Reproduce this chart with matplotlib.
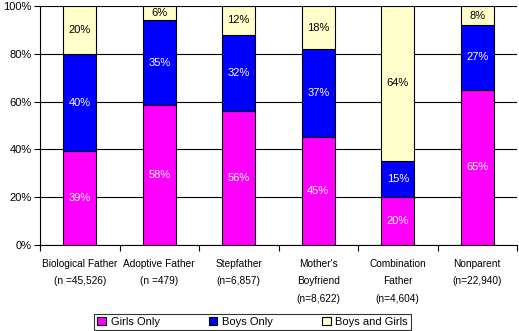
import numpy as np
import matplotlib.pyplot as plt
from matplotlib.ticker import FixedLocator, FuncFormatter

# categories and shares (percent, as printed on the bars)
categories = ['Biological Father\n(n =45,526)', 'Adoptive Father\n(n =479)',
              'Stepfather\n(n=6,857)', "Mother's\nBoyfriend\n(n=8,622)",
              'Combination\nFather\n(n=4,604)', 'Nonparent\n(n=22,940)']
girls_only = [39, 58, 56, 45, 20, 65]
boys_only = [40, 35, 32, 37, 15, 27]
boys_and_girls = [20, 6, 12, 18, 64, 8]

series = [('Girls Only', girls_only, '#FF00FF', 'white'),
          ('Boys Only', boys_only, '#0000FF', 'white'),
          ('Boys and Girls', boys_and_girls, '#FFFFCC', 'black')]

plt.rcParams['font.family'] = ['Liberation Sans', 'DejaVu Sans']
plt.rcParams['font.size'] = 8

fig = plt.figure(figsize=(5.19, 3.31), dpi=100)
ax = fig.add_axes([40 / 519, 1 - 245 / 331, 477 / 519, 239 / 331])

x = np.arange(len(categories))
totals = np.sum([s[1] for s in series], axis=0)
bottom = np.zeros(len(categories))
handles = []
for name, vals, col, tcol in series:
    frac = np.array(vals) / totals
    b = ax.bar(x, frac, 0.42, bottom=bottom, color=col, edgecolor='black',
               linewidth=0.8, label=name, zorder=3)
    handles.append(b)
    for xi, f, bt, v in zip(x, frac, bottom, vals):
        ax.text(xi, bt + f / 2, '%d%%' % v, ha='center', va='center',
                color=tcol, fontsize=8, zorder=4)
    bottom = bottom + frac

ax.set_xlim(-0.5, len(categories) - 0.5)
ax.set_ylim(0, 1)
ax.yaxis.set_major_locator(FixedLocator(np.linspace(0, 1, 6)))
ax.yaxis.set_major_formatter(FuncFormatter(lambda v, p: '%d%%' % round(v * 100)))
ax.yaxis.grid(True, color='black', linewidth=0.8, zorder=0)

# category labels between boundary ticks
ax.xaxis.set_major_locator(FixedLocator(np.arange(-0.5, len(categories), 1)))
ax.xaxis.set_major_formatter(FuncFormatter(lambda v, p: ''))
ax.xaxis.set_minor_locator(FixedLocator(x))
ax.set_xticklabels(categories, minor=True, va='top', ha='center',
                   linespacing=1.95, fontsize=7.3)
ax.tick_params(axis='x', which='minor', length=0, pad=10)
ax.tick_params(axis='x', which='major', direction='out', length=4, width=0.8)
ax.tick_params(axis='y', direction='out', length=4, width=0.8, pad=2)

for s in ['top', 'right']:
    ax.spines[s].set_visible(False)
ax.spines['left'].set_linewidth(0.8)
ax.spines['bottom'].set_linewidth(0.8)

leg = fig.legend(handles=handles, loc='center', ncol=3,
                 bbox_to_anchor=(252.5 / 519, 1 - 322 / 331),
                 frameon=True, fancybox=False, edgecolor='black',
                 handlelength=0.8, handleheight=0.8, handletextpad=0.4,
                 columnspacing=4.4, borderpad=0.3, borderaxespad=0,
                 fontsize=8)
leg.get_frame().set_linewidth(0.8)

fig.savefig('out.png', dpi=100)
